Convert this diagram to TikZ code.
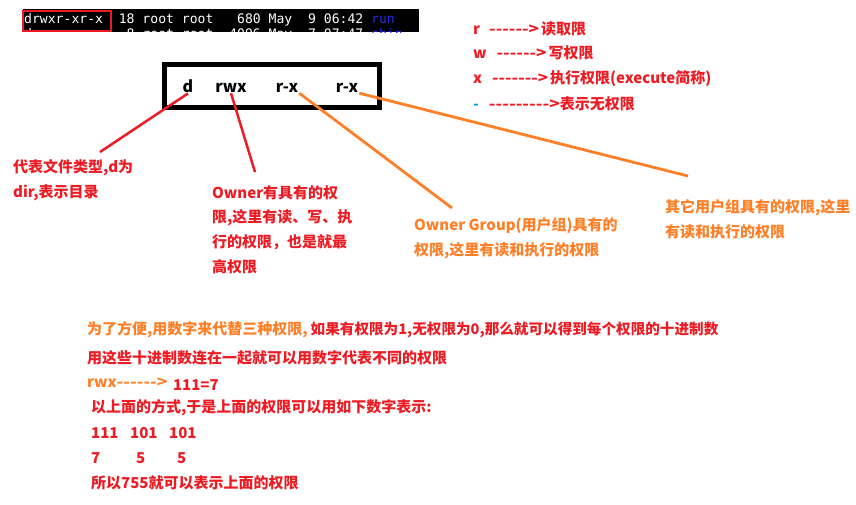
\documentclass[tikz,border=0pt]{standalone}
\usepackage{fontspec}
\newfontfamily\cjk{Noto Sans CJK SC}
\newfontfamily\term{DejaVu Sans Mono}
\usetikzlibrary{arrows.meta, calc, positioning}
\definecolor{paintred}{HTML}{ED1C24}
\definecolor{paintorange}{HTML}{FF7F27}
\definecolor{paintblue}{HTML}{00A2E8}
\definecolor{termblue}{HTML}{2A2AF0}
% stretched ascii arrow of a given width
\newcommand\dashto[2]{\resizebox{#1}{\height}{#2}}

\begin{document}
\begin{tikzpicture}[
            x=1pt, y=-1pt,
            redtxt/.style={anchor=west, inner sep=0pt, align=left, text=paintred, font=\cjk\bfseries\fontsize{15}{24.7}\selectfont},
            orgtxt/.style={redtxt, text=paintorange},
            permlbl/.style={anchor=base, inner sep=1pt, font=\cjk\bfseries\fontsize{16}{18}\selectfont},
            redline/.style={draw=paintred, line width=2.5pt},
            orgline/.style={draw=paintorange, line width=2.8pt},
            termtxt/.style={anchor=west, inner sep=0pt, text=white, font=\term\fontsize{13.1}{14}\selectfont}
        ]
        
        % 1. Canvas (pixel units)
        \fill[white] (0,0) rectangle (856,504);
        \useasboundingbox (0,0) rectangle (856,504);
        
        % 2. Row positions
        \def\legA{29}
        \def\legB{53}
        \def\legC{79}
        \def\legD{104}
        \def\rowA{330}
        \def\rowB{358}
        \def\rowC{383}
        \def\rowD{408}
        \def\rowE{433}
        \def\rowF{458}
        \def\rowG{483}
        
        % 3. Terminal listing
        \fill[black] (23,9) rectangle (419,32);
        \begin{scope}
            \clip (23,9) rectangle (419,32);
            \node[termtxt] (lsRun) at (24,19.5) {drwxr-xr-x~~18~root~root~~~680~May~~9~06:42~\textcolor{termblue}{run}};
            \node[termtxt] (lsSbin) at (24,34.5) {drwxr-xr-x~~~8~root~root~~4096~May~~7~07:47~\textcolor{termblue}{sbin}};
        \end{scope}
        \draw[paintred, line width=2pt] (23,11) rectangle (111,31);
        
        % 4. Permission box
        \draw[line width=5pt] (164.8,64.5) rectangle (379.2,107.5);
        \node[permlbl] (ftype) at (188,92) {d};
        \node[permlbl] (owner) at (231,92) {rwx};
        \node[permlbl] (group) at (287,92) {r-x};
        \node[permlbl] (other) at (347,92) {r-x};
        
        % 5. Legend
        \node[redtxt] (legR) at (473,\legA) {r\hspace{9pt}\dashto{50pt}{------>}\hspace{2pt}读取限};
        \node[redtxt] (legW) at (473,\legB) {w\hspace{10pt}\dashto{50pt}{------>}\hspace{2pt}写权限};
        \node[redtxt] (legX) at (473,\legC) {x\hspace{10pt}\dashto{56pt}{------->}\hspace{2pt}执行权限(execute简称)};
        \node[redtxt] (legN) at (473,\legD) {\textcolor{paintblue}{-}\hspace{10pt}\dashto{71pt}{--------->}表示无权限};
        
        % --- EXPLANATIONS ---
        \node[redtxt] (ftypeTxt) at (13,180.5) {代表文件类型,d为\\dir,表示目录};
        \node[redtxt] (ownerTxt) at (212,229.5) {Owner有具有的权\\限,这里有读、写、执\\行的权限，也是就最\\高权限};
        \node[orgtxt] (groupTxt) at (414,238.5) {Owner Group(用户组)具有的\\权限,这里有读和执行的权限};
        \node[orgtxt] (otherTxt) at (665,219) {其它用户组具有的权限,这里\\有读和执行的权限};
        
        % Pointer lines
        \coordinate (ftypeEnd) at (100,152);
        \coordinate (ownerEnd) at (255,172);
        \coordinate (groupEnd) at (452,208);
        \coordinate (otherEnd) at (688,176);
        \draw[redline] (ftype.south) -- (ftypeEnd);
        \draw[redline] (owner.south) -- (ownerEnd);
        \draw[orgline] (group.south east) -- (groupEnd);
        \draw[orgline] (other.south east) -- (otherEnd);
        
        % --- NUMERIC FORM ---
        \node[orgtxt] (why) at (87,\rowA) {为了方便,用数字来代替三种权限,\hspace{3pt}\textcolor{paintred}{\fontsize{14.6}{24.7}\selectfont 如果有权限为1,无权限为0,那么就可以得到每个权限的十进制数}};
        \node[redtxt] (concat) at (87,\rowB) {用这些十进制数连在一起就可以用数字代表不同的权限};
        \node[orgtxt] (rwxArr) at (87,\rowC) {rwx\dashto{51pt}{------>}};
        \node[redtxt, right=5pt of rwxArr, yshift=-2pt] (rwxVal) {111=7};
        \node[redtxt] (howto) at (91,\rowD) {以上面的方式,于是上面的权限可以用如下数字表示:};
        \node[redtxt] (binO) at (91,\rowE) {111};
        \node[redtxt] (binG) at (130,\rowE) {101};
        \node[redtxt] (binA) at (169,\rowE) {101};
        \node[redtxt] (decO) at (91,\rowF) {7};
        \node[redtxt] (decG) at (136,\rowF) {5};
        \node[redtxt] (decA) at (177,\rowF) {5};
        \node[redtxt] (total) at (91,\rowG) {所以755就可以表示上面的权限};

        \end{tikzpicture}
\end{document}
